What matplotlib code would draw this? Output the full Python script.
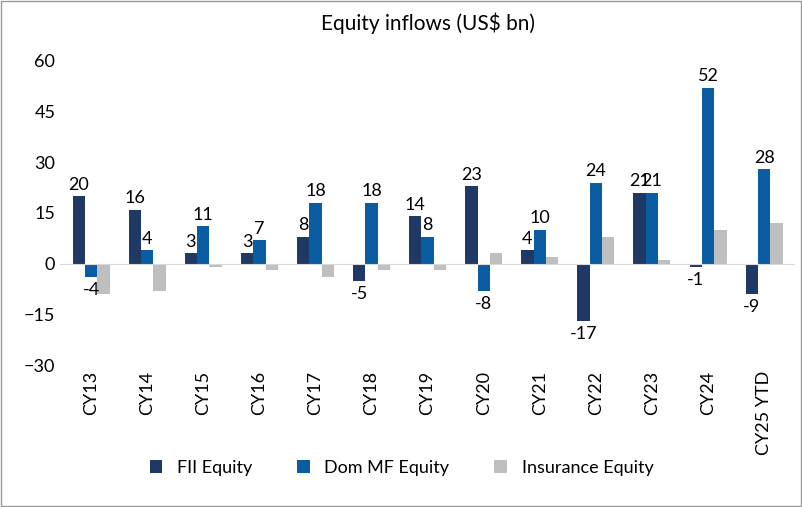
import numpy as np
import matplotlib.pyplot as plt
from matplotlib.patches import Rectangle

years = ['CY13', 'CY14', 'CY15', 'CY16', 'CY17', 'CY18', 'CY19', 'CY20', 'CY21', 'CY22', 'CY23', 'CY24', 'CY25 YTD']
fii = [20, 16, 3, 3, 8, -5, 14, 23, 4, -17, 21, -1, -9]
dom_mf = [-4, 4, 11, 7, 18, 18, 8, -8, 10, 24, 21, 52, 28]
insurance = [-9, -8, -1, -2, -4, -2, -2, 3, 2, 8, 1, 10, 12]

plt.rcParams['font.family'] = ['Lato', 'DejaVu Sans']
fig = plt.figure(figsize=(8.03, 5.07), dpi=100)
ax = fig.add_axes([0.075, 0.28, 0.915, 0.60])
x = np.arange(len(years))
w = 0.22
series = [(fii, '#1f3864', 'FII Equity'), (dom_mf, '#0a5ca3', 'Dom MF Equity'), (insurance, '#bfbfbf', 'Insurance Equity')]
for i, (vals, c, lab) in enumerate(series):
    ax.bar(x + (i - 1) * w, vals, w, color=c, label=lab)
    if i < 2:
        for xi, v in zip(x, vals):
            ax.text(xi + (i - 1) * w, v + (1 if v >= 0 else -1.5), str(v), ha='center',
                    va='bottom' if v >= 0 else 'top', fontsize=13)

ax.set_ylim(-30, 60)
ax.set_yticks(range(-30, 61, 15))
ax.set_xlim(-0.55, len(years) - 0.45)
ax.set_xticks(x)
ax.set_xticklabels(years, rotation=90, fontsize=13)
ax.tick_params(axis='y', labelsize=13, length=0)
ax.tick_params(axis='x', length=0, pad=4)
ax.axhline(0, color='#d9d9d9', lw=0.8)
for s in ax.spines.values():
    s.set_visible(False)
ax.set_title('Equity inflows (US$ bn)', fontsize=15, pad=22)
fig.legend(loc='lower center', bbox_to_anchor=(0.5, 0.03), ncol=3, frameon=False, fontsize=13,
           handlelength=0.7, handleheight=0.7, columnspacing=2.5)
fig.patches.append(Rectangle((0.001, 0.001), 0.997, 0.997, transform=fig.transFigure,
                             fill=False, edgecolor='#999999', lw=1))
fig.savefig('out.png')
